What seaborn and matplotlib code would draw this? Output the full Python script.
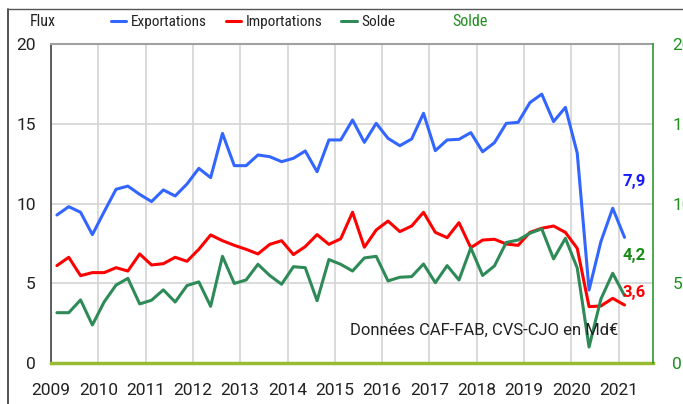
import numpy as np
import pandas as pd
import matplotlib.pyplot as plt
import seaborn as sns
from matplotlib.lines import Line2D
from matplotlib.transforms import ScaledTranslation

# trimestres 2009T1 -> 2021T1
quarters = [f"{y}T{q}" for y in range(2009, 2022) for q in range(1, 5)][:49]

exportations = [9.29, 9.81, 9.46, 8.06, 9.5, 10.9, 11.1, 10.58, 10.13, 10.86, 10.48, 11.23,
                12.21, 11.63, 14.4, 12.38, 12.38, 13.05, 12.94, 12.63, 12.84, 13.3, 12.0, 13.99,
                13.99, 15.24, 13.84, 15.03, 14.09, 13.63, 14.05, 15.66, 13.32, 13.99, 14.03, 14.45,
                13.25, 13.82, 15.03, 15.09, 16.33, 16.86, 15.14, 16.03, 13.17, 4.59, 7.62, 9.71, 7.89]
importations = [6.12, 6.64, 5.49, 5.68, 5.68, 5.99, 5.78, 6.85, 6.16, 6.24, 6.64, 6.39,
                7.14, 8.04, 7.68, 7.39, 7.14, 6.85, 7.45, 7.68, 6.81, 7.31, 8.06, 7.45,
                7.8, 9.46, 7.27, 8.35, 8.91, 8.25, 8.6, 9.46, 8.2, 7.87, 8.81, 7.24,
                7.72, 7.77, 7.47, 7.39, 8.2, 8.46, 8.6, 8.2, 7.2, 3.55, 3.59, 4.07, 3.65]
solde = [3.17, 3.17, 3.97, 2.4, 3.85, 4.9, 5.32, 3.72, 3.95, 4.6, 3.84, 4.87,
         5.1, 3.57, 6.7, 5.0, 5.22, 6.2, 5.5, 4.95, 6.05, 5.99, 3.92, 6.5,
         6.2, 5.78, 6.6, 6.7, 5.16, 5.39, 5.43, 6.22, 5.05, 6.12, 5.22, 7.23,
         5.5, 6.1, 7.57, 7.72, 8.15, 8.42, 6.54, 7.83, 5.97, 1.02, 4.02, 5.64, 4.24]

year_ticks = list(range(2009, 2022))
y_ticks = [0, 5, 10, 15, 20]

series_names = ['Exportations', 'Importations', 'Solde']
palette = {'Exportations': '#3366ff', 'Importations': '#ff0000', 'Solde': '#2e8b57'}

# position au milieu du trimestre
t = [int(s[:4]) + (int(s[-1]) - 0.5) / 4 for s in quarters]
df = pd.DataFrame({'t': t, 'Exportations': exportations,
                   'Importations': importations, 'Solde': solde})
df_long = df.melt(id_vars='t', var_name='serie', value_name='valeur')

sns.set_style('white')
plt.rcParams['font.family'] = ['Roboto', 'DejaVu Sans']
narrow = ['Roboto Condensed', 'Liberation Sans Narrow', 'Roboto', 'DejaVu Sans']

fig = plt.figure(figsize=(6.83, 4.04), dpi=100)
ax = fig.add_axes([51 / 683, 40.7 / 404, 602 / 683, 319.3 / 404])

sns.lineplot(data=df_long, x='t', y='valeur', hue='serie', hue_order=series_names,
             palette=palette, linewidth=2.2, ax=ax, legend=False)

ax.set_xlim(2009, 2021.727)
ax.set_ylim(0, 20)
ax.set_xticks(year_ticks)
ax.set_xticklabels([str(y) for y in year_ticks], fontsize=12.5, color='#222222')
for lab in ax.get_xticklabels():
    lab.set_transform(lab.get_transform() + ScaledTranslation(5 / 100, 0, fig.dpi_scale_trans))
ax.set_yticks(y_ticks)
ax.set_yticklabels([str(v) for v in y_ticks], fontsize=12.5, color='#222222')
ax.tick_params(axis='x', length=0, pad=14)
ax.tick_params(axis='y', length=0, pad=11)
ax.set_xlabel('')
ax.set_ylabel('')
ax.grid(True, color='#d4d4d4', linewidth=1.2)
ax.set_axisbelow(True)

ax.spines['left'].set_color('#444444')
ax.spines['left'].set_linewidth(1.2)
ax.spines['top'].set_color('#a0a0a0')
ax.spines['top'].set_linewidth(1.5)
ax.spines['bottom'].set_color('#99bb33')
ax.spines['bottom'].set_linewidth(2.5)
ax.spines['right'].set_visible(False)

ax2 = ax.twinx()
ax2.set_ylim(0, 20)
ax2.set_yticks(y_ticks)
ax2.set_yticklabels([str(v) for v in y_ticks], fontsize=12.5, color='#1f8f1f')
ax2.tick_params(axis='y', length=0, pad=14)
ax2.grid(False)
for side in ['top', 'left', 'bottom']:
    ax2.spines[side].set_visible(False)
ax2.spines['right'].set_color('#2e9a2e')
ax2.spines['right'].set_linewidth(1.2)

# étiquettes des dernières valeurs
ax.text(2021.09, 11.4, '7,9', color='#1a1aff', fontsize=12, fontweight='bold', va='center')
ax.text(2021.09, 6.78, '4,2', color='#168c16', fontsize=12, fontweight='bold', va='center')
ax.text(2021.09, 4.46, '3,6', color='#ff0000', fontsize=12, fontweight='bold', va='center')
ax.text(2015.32, 2.08, 'Données CAF-FAB, CVS-CJO en Md€', color='#222222', fontsize=12, va='center')

# en-tête
fig.text(43 / 683, 1 - 22 / 404, 'Flux', ha='center', va='center', fontsize=11.5,
         color='#222222', family=narrow)
fig.text(470 / 683, 1 - 22 / 404, 'Solde', ha='center', va='center', fontsize=11.5,
         color='#1f8f1f', family=narrow)
handles = [Line2D([0], [0], color=palette[n], linewidth=2.2) for n in series_names]
fig.legend(handles, series_names, loc='center', bbox_to_anchor=(253 / 683, 1 - 22 / 404),
           ncol=3, frameon=False, handlelength=1.0, handletextpad=0.3, columnspacing=1.25,
           prop={'family': narrow, 'size': 11}, labelcolor='#222222')

# cadre
fig.add_artist(Line2D([8 / 683, 8 / 683], [0, 1 - 9 / 404], transform=fig.transFigure,
                      color='#333333', linewidth=1.2))
fig.add_artist(Line2D([8 / 683, 1], [1 - 9 / 404, 1 - 9 / 404], transform=fig.transFigure,
                      color='#555555', linewidth=1.0))

fig.savefig('out.png', dpi=100)
